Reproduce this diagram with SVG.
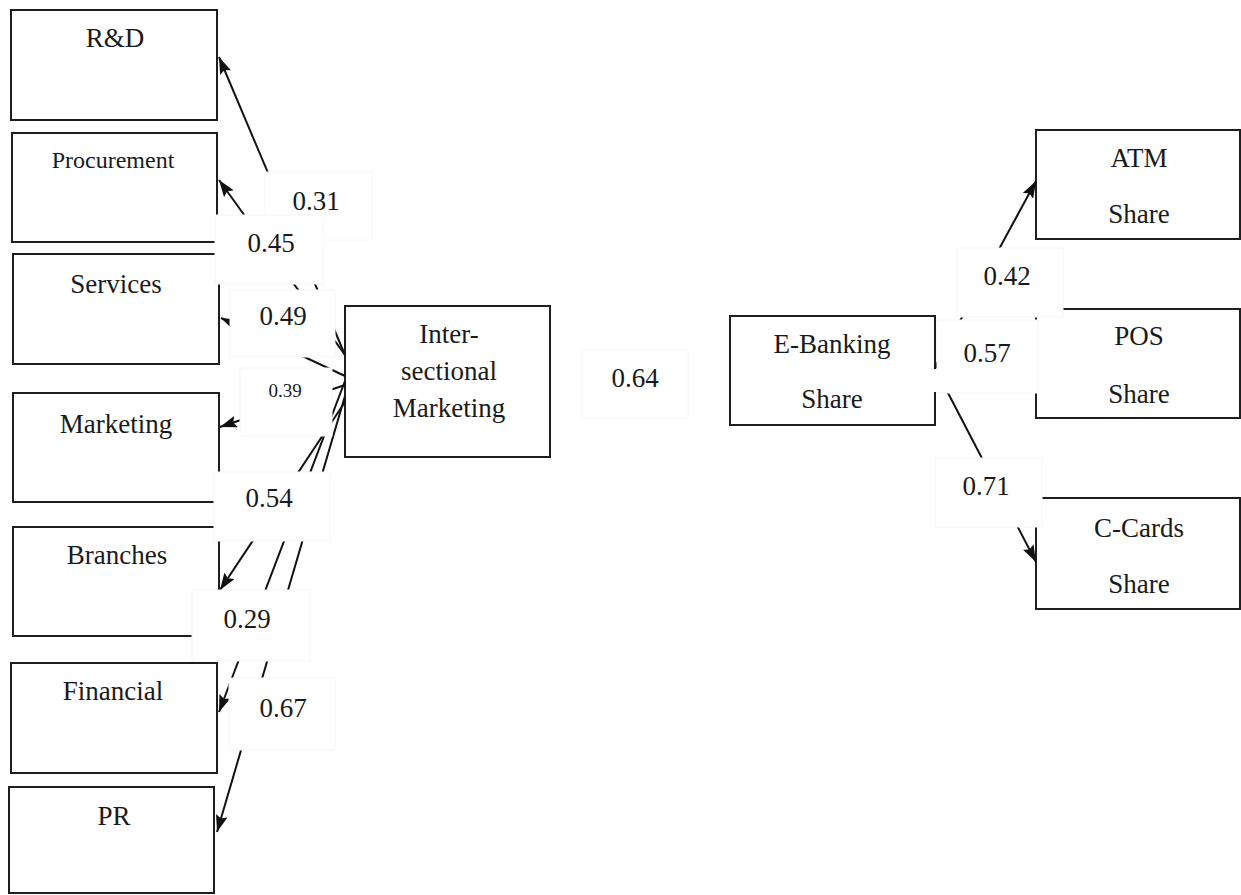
<svg xmlns="http://www.w3.org/2000/svg" width="1241" height="895" viewBox="0 0 1241 895">
<style>
.box{fill:#fff;stroke:#1e1e1e;stroke-width:2}
.t{font-family:"Liberation Serif","Times New Roman",serif;font-size:27px;fill:#1a1a1a;text-anchor:middle}
.small{font-size:24px}
.lb{fill:#fff;stroke:#f6f6f6;stroke-width:1}
.c{stroke:#111;stroke-width:2;fill:none;marker-end:url(#ah)}
</style>
<defs>
<marker id="ah" viewBox="0 0 17 12" refX="17" refY="6" markerWidth="17" markerHeight="12" orient="auto" markerUnits="userSpaceOnUse">
<path d="M0,0 L17,6 L0,12 L3,6 z" fill="#111"/>
</marker>
</defs>
<rect width="1241" height="895" fill="#fff"/>
<g id="node-rd"><rect class="box" x="11" y="10" width="206" height="110"/><text class="t" x="115" y="47">R&amp;D</text></g>
<g id="node-procurement"><rect class="box" x="12" y="133" width="205" height="109"/><text class="t small" x="113" y="168">Procurement</text></g>
<g id="node-services"><rect class="box" x="13" y="254" width="206" height="110"/><text class="t" x="116" y="293">Services</text></g>
<g id="node-marketing"><rect class="box" x="13" y="393" width="206" height="109"/><text class="t" x="116" y="433">Marketing</text></g>
<g id="node-branches"><rect class="box" x="13" y="527" width="206" height="109"/><text class="t" x="117" y="564">Branches</text></g>
<g id="node-financial"><rect class="box" x="11" y="663" width="206" height="110"/><text class="t" x="113" y="700">Financial</text></g>
<g id="node-pr"><rect class="box" x="9" y="787" width="205" height="106"/><text class="t" x="114" y="825">PR</text></g>
<g id="node-intersectional"><rect class="box" x="345" y="306" width="205" height="151"/><text class="t" x="449" y="343">Inter-</text><text class="t" x="449" y="380">sectional</text><text class="t" x="449" y="417">Marketing</text></g>
<g id="node-ebanking"><rect class="box" x="730" y="316" width="205" height="109"/><text class="t" x="832" y="353">E-Banking</text><text class="t" x="832" y="408">Share</text></g>
<g id="node-atm"><rect class="box" x="1036" y="130" width="204" height="109"/><text class="t" x="1139" y="167">ATM</text><text class="t" x="1139" y="223">Share</text></g>
<g id="node-pos"><rect class="box" x="1036" y="309" width="204" height="109"/><text class="t" x="1139" y="345">POS</text><text class="t" x="1139" y="403">Share</text></g>
<g id="node-ccards"><rect class="box" x="1036" y="498" width="204" height="111"/><text class="t" x="1139" y="537">C-Cards</text><text class="t" x="1139" y="593">Share</text></g>
<g id="connectors">
<line class="c" x1="345" y1="355" x2="219" y2="57"/>
<line class="c" x1="345" y1="355" x2="219" y2="180"/>
<line class="c" x1="345" y1="376" x2="221" y2="318"/>
<line class="c" x1="345" y1="385" x2="220" y2="427"/>
<line class="c" x1="345" y1="402" x2="220" y2="590"/>
<line class="c" x1="345" y1="381" x2="219" y2="712"/>
<line class="c" x1="345" y1="396" x2="217" y2="832"/>
<line class="c" x1="935" y1="367" x2="1036" y2="181"/>
<line class="c" x1="935" y1="367" x2="1036" y2="365"/>
<line class="c" x1="935" y1="368" x2="1036" y2="562"/>
</g>
<g id="labels">
<g id="label-031"><rect class="lb" x="265" y="172" width="107" height="68"/><text class="t" x="316" y="210">0.31</text></g>
<g id="label-045"><rect class="lb" x="215" y="215" width="108" height="69"/><text class="t" x="271" y="252">0.45</text></g>
<g id="label-049"><rect class="lb" x="230" y="290" width="105" height="67"/><text class="t" x="283" y="325">0.49</text></g>
<g id="label-039"><rect class="lb" x="240" y="368" width="92" height="68"/><text class="t" x="285" y="397" style="font-size:19px">0.39</text></g>
<g id="label-054"><rect class="lb" x="214" y="472" width="116" height="69"/><text class="t" x="269" y="507">0.54</text></g>
<g id="label-029"><rect class="lb" x="192" y="590" width="118" height="71"/><text class="t" x="247" y="628">0.29</text></g>
<g id="label-067"><rect class="lb" x="229" y="678" width="106" height="72"/><text class="t" x="283" y="717">0.67</text></g>
<g id="label-064"><rect class="lb" x="582" y="350" width="106" height="68"/><text class="t" x="635" y="387">0.64</text></g>
<g id="label-042"><rect class="lb" x="957" y="248" width="106" height="69"/><text class="t" x="1007" y="285">0.42</text></g>
<g id="label-057"><rect class="lb" x="937" y="320" width="101" height="73"/><rect x="931" y="369" width="8" height="23" fill="#fff"/><text class="t" x="987" y="362">0.57</text></g>
<g id="label-071"><rect class="lb" x="935" y="458" width="107" height="69"/><text class="t" x="986" y="495">0.71</text></g>
</g>
</svg>
